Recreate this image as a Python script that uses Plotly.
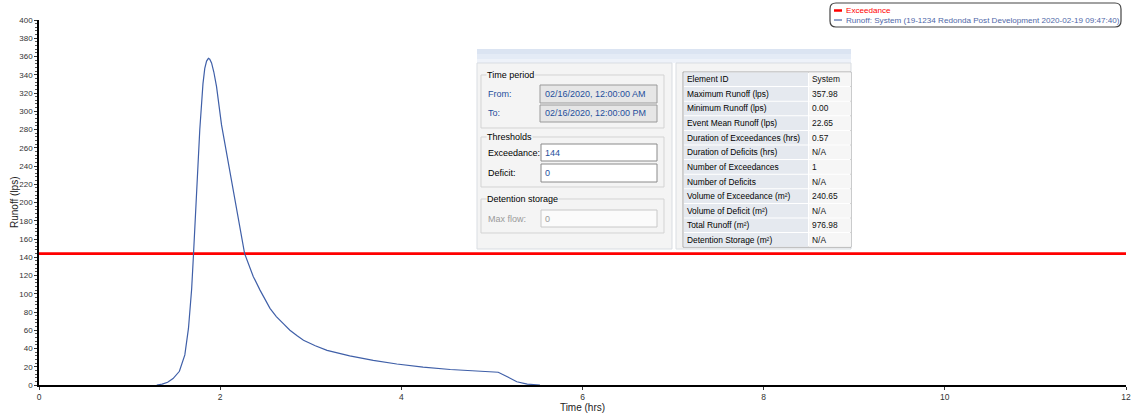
import plotly.graph_objects as go

# ---------------- data ----------------
time_hrs = [1.30, 1.36, 1.42, 1.48, 1.55, 1.61, 1.65, 1.685, 1.705, 1.74, 1.775, 1.81, 1.83, 1.85,
            1.87, 1.885, 1.905, 1.93, 1.96, 2.015, 2.09, 2.16, 2.27, 2.365, 2.44, 2.55, 2.62, 2.70,
            2.77, 2.85, 2.92, 3.05, 3.18, 3.43, 3.69, 3.95, 4.24, 4.54, 4.83, 5.07, 5.17, 5.275,
            5.39, 5.53]
runoff_lps = [0, 1, 3, 7, 15, 33, 62, 105, 142, 215, 280, 330, 347, 355,
              358, 357, 353, 343, 327, 285, 243, 203, 144, 119, 104, 84, 75, 67,
              60, 54, 49, 43, 38, 32, 27, 23, 19.5, 17, 15, 14, 9, 3.6,
              1, 0]
exceedance_x = [0, 12]
exceedance_y = [144, 144]

series_names = ["Exceedance",
                "Runoff: System (19-1234 Redonda Post Development 2020-02-19 09:47:40)"]

x_ticks = [0, 2, 4, 6, 8, 10, 12]
y_ticks = list(range(0, 401, 20))

period_from = "02/16/2020, 12:00:00 AM"
period_to = "02/16/2020, 12:00:00 PM"
threshold_exceedance = "144"
threshold_deficit = "0"
max_flow = "0"

stat_labels = ["Element ID", "Maximum Runoff (lps)", "Minimum Runoff (lps)", "Event Mean Runoff (lps)",
               "Duration of Exceedances (hrs)", "Duration of Deficits (hrs)", "Number of Exceedances",
               "Number of Deficits", "Volume of Exceedance (m²)", "Volume of Deficit (m²)",
               "Total Runoff (m²)", "Detention Storage (m²)"]
stat_values = ["System", "357.98", "0.00", "22.65", "0.57", "N/A", "1", "N/A", "240.65", "N/A",
               "976.98", "N/A"]

# ---------------- layout helpers (pixel -> paper) ----------------
W, H = 1131, 420
ML, MR, MT, MB = 39, 5, 20, 35
PW, PH = W - ML - MR, H - MT - MB


def X(px):
    return (px - ML) / PW


def Y(py):
    return (H - MB - py) / PH


FONT = "Arial, Liberation Sans, sans-serif"
RED = "#ff0000"
BLUE = "#3f5fa8"

fig = go.Figure()
fig.add_trace(go.Scatter(x=exceedance_x, y=exceedance_y, mode="lines",
                         line=dict(color=RED, width=2.6), name=series_names[0],
                         showlegend=False))
fig.add_trace(go.Scatter(x=time_hrs, y=runoff_lps, mode="lines",
                         line=dict(color=BLUE, width=1.2), name=series_names[1],
                         showlegend=False))

shapes = []
annots = []


def rect(x0, y0, x1, y1, fill, line=None, lw=1):
    shapes.append(dict(type="rect", xref="paper", yref="paper",
                       x0=X(x0), x1=X(x1), y0=Y(y0), y1=Y(y1),
                       fillcolor=fill, layer="above",
                       line=dict(color=line if line else fill, width=lw if line else 0)))


def text(px, py, s, color="#000", size=9, bg=None, anchor="left", angle=0):
    d = dict(xref="paper", yref="paper", x=X(px), y=Y(py), text=s, showarrow=False,
             xanchor=anchor, yanchor="middle", font=dict(family=FONT, size=size, color=color),
             borderpad=0, textangle=angle)
    if bg:
        d["bgcolor"] = bg
    annots.append(d)


# ---------------- y axis title ----------------
text(15, 202, "Runoff (lps)", "#222", 10, anchor="center", angle=-90)

# ---------------- dialog ----------------
PANEL = "#f4f4f4"
rect(477, 49, 851, 249, "#ffffff")
rect(477, 49, 851, 54, "#dbe4f2")
rect(477, 54, 851, 59, "#e4ebf6")
rect(477, 59, 851, 63, "#eef2f9")
rect(477, 63, 672, 249, PANEL, "#d9dde2")
rect(676, 63, 851, 249, PANEL, "#d9dde2")

# group boxes
GB = "#d3d3d3"
rect(481, 75, 664, 128, PANEL, GB)
rect(481, 137, 664, 187, PANEL, GB)
rect(481, 199, 664, 233, PANEL, GB)
text(486, 75, "Time period", "#000", 9, PANEL)
text(486, 137, "Thresholds", "#000", 9, PANEL)
text(486, 199, "Detention storage", "#000", 9, PANEL)

LBL_BLUE = "#1f4f9c"
VAL_BLUE = "#1f4f9c"
# time period
text(487, 94, "From:", LBL_BLUE, 9)
rect(540, 85, 657, 103, "#e6e6e6", "#9a9a9a")
text(544, 94, period_from, VAL_BLUE, 9)
text(487, 113, "To:", LBL_BLUE, 9)
rect(540, 105, 657, 122, "#e6e6e6", "#9a9a9a")
text(544, 113, period_to, VAL_BLUE, 9)
# thresholds
text(487, 153, "Exceedance:", "#000", 9)
rect(541, 144, 657, 161, "#ffffff", "#8a8a8a")
text(544, 153, threshold_exceedance, VAL_BLUE, 9)
text(487, 173, "Deficit:", "#000", 9)
rect(541, 164, 657, 182, "#ffffff", "#8a8a8a")
text(544, 173, threshold_deficit, VAL_BLUE, 9)
# detention
text(487, 219, "Max flow:", "#9a9a9a", 9)
rect(541, 210, 657, 227, "#fbfbfb", "#c8c8c8")
text(544, 219, max_flow, "#9a9a9a", 9)

# statistics table
T0, RH = 72, 14.6
rect(683, T0, 851, T0 + RH * len(stat_labels), "#ffffff", "#a8a8a8")
for i, (lab, val) in enumerate(zip(stat_labels, stat_values)):
    y0 = T0 + i * RH
    rect(684, y0 + 0.5, 808, y0 + RH - 0.5, "#e5e9ef")
    rect(809, y0 + 0.5, 851, y0 + RH - 0.5, "#f6f6f6")
    text(686, y0 + RH / 2, lab, "#000", 8.4)
    text(811, y0 + RH / 2, val, "#111", 8.4)

# ---------------- legend (drawn) ----------------
lx0, lx1, ly0, ly1, r = 830, 1121, 3, 27, 6
path = (f"M {X(lx0 + r)},{Y(ly0)} L {X(lx1 - r)},{Y(ly0)} Q {X(lx1)},{Y(ly0)} {X(lx1)},{Y(ly0 + r)} "
        f"L {X(lx1)},{Y(ly1 - r)} Q {X(lx1)},{Y(ly1)} {X(lx1 - r)},{Y(ly1)} "
        f"L {X(lx0 + r)},{Y(ly1)} Q {X(lx0)},{Y(ly1)} {X(lx0)},{Y(ly1 - r)} "
        f"L {X(lx0)},{Y(ly0 + r)} Q {X(lx0)},{Y(ly0)} {X(lx0 + r)},{Y(ly0)} Z")
shapes.append(dict(type="path", xref="paper", yref="paper", path=path,
                   fillcolor="#ffffff", line=dict(color="#444444", width=1.2), layer="above"))
shapes.append(dict(type="line", xref="paper", yref="paper", x0=X(834), x1=X(842), y0=Y(10.5),
                   y1=Y(10.5), line=dict(color=RED, width=2.5), layer="above"))
shapes.append(dict(type="line", xref="paper", yref="paper", x0=X(834), x1=X(842), y0=Y(20),
                   y1=Y(20), line=dict(color="#6f86b8", width=1.5), layer="above"))
text(845, 10.5, series_names[0], RED, 8.1)
text(845, 20, series_names[1], "#4f68a8", 8.1)

fig.update_layout(
    width=W, height=H,
    margin=dict(l=ML, r=MR, t=MT, b=MB, pad=0, autoexpand=False),
    paper_bgcolor="#ffffff", plot_bgcolor="#ffffff",
    font=dict(family=FONT, size=8, color="#333333"),
    shapes=shapes, annotations=annots, showlegend=False,
    xaxis=dict(range=[0, 12], tickvals=x_ticks, ticks="outside", ticklen=3, tickcolor="#333",
               showline=True, linecolor="#000", linewidth=2, showgrid=False, zeroline=False,
               automargin=False, tickfont=dict(size=8.5, color="#333"),
               title=dict(text="Time (hrs)", font=dict(size=10, color="#222"), standoff=2)),
    yaxis=dict(range=[0, 400], tickvals=y_ticks, ticks="outside", ticklen=3, tickcolor="#333",
               showline=True, linecolor="#000", linewidth=1.5, showgrid=False, zeroline=False,
               automargin=False, tickfont=dict(size=8, color="#333"),
               minor=dict(dtick=4, ticks="outside", ticklen=2, tickcolor="#555", showgrid=False)),
)

fig.write_html("out.html", config={"displayModeBar": False},
               post_script="document.body.style.margin='0';document.body.style.overflow='hidden';")
